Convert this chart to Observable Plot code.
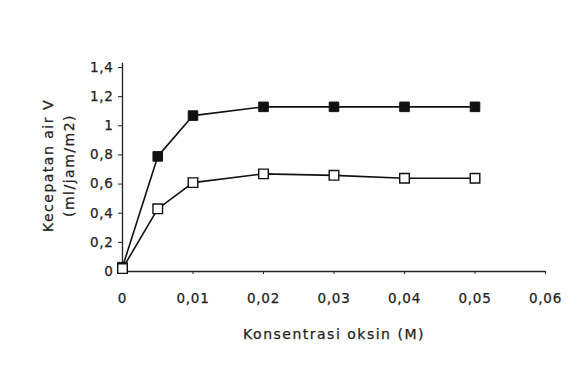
<!DOCTYPE html>
<html>
<head>
<meta charset="utf-8">
<script src="https://cdn.jsdelivr.net/npm/d3@7"></script>
<script src="https://cdn.jsdelivr.net/npm/@observablehq/plot@0.6"></script>
<style>
  html, body { margin: 0; padding: 0; background: #fff; }
  #chart svg { display: block; }
  #chart svg text { stroke: #222; stroke-width: 0.25px; }
  .ticklbl text { letter-spacing: 0.7px; }
  .axlbl text { letter-spacing: 1.5px; }
</style>
</head>
<body>
<div id="chart"></div>
<script>
const concentrations = [0, 0.005, 0.01, 0.02, 0.03, 0.04, 0.05];
const filledSeries = [0.03, 0.79, 1.07, 1.13, 1.13, 1.13, 1.13];
const openSeries = [0.02, 0.43, 0.61, 0.67, 0.66, 0.64, 0.64];
const xTicks = [0, 0.01, 0.02, 0.03, 0.04, 0.05, 0.06];
const yTicks = [0, 0.2, 0.4, 0.6, 0.8, 1, 1.2, 1.4];
const xLabel = "Konsentrasi oksin (M)";
const yLabel = "Kecepatan air V\n(ml/jam/m2)";

const filled = concentrations.map((x, i) => ({x, y: filledSeries[i]}));
const open = concentrations.map((x, i) => ({x, y: openSeries[i]}));
const comma = d => String(d).replace(".", ",");

const chart = Plot.plot({
  width: 571,
  height: 365,
  marginLeft: 122,
  marginRight: 26,
  marginTop: 67,
  marginBottom: 94,
  style: {fontFamily: "DejaVu Sans, sans-serif", fontSize: "13.5px", color: "#222", background: "#fff"},
  x: {domain: [0, 0.06]},
  y: {domain: [0, 1.4]},
  marks: [
    Plot.ruleY([0], {x1: 0, x2: 0.06, stroke: "#222", strokeWidth: 1.3}),
    Plot.ruleX([0], {y1: 0, y2: 1.43, stroke: "#222", strokeWidth: 1.3, clip: false}),
    Plot.axisX({ticks: xTicks, tickFormat: comma, tickSize: 3, tickPadding: 19, label: null, stroke: "#222", fill: "#222", className: "ticklbl"}),
    Plot.axisY({ticks: yTicks, tickFormat: comma, tickSize: 4, tickPadding: 5, label: null, stroke: "#222", fill: "#222", className: "ticklbl"}),
    Plot.line(filled, {x: "x", y: "y", stroke: "#111", strokeWidth: 1.6}),
    Plot.line(open, {x: "x", y: "y", stroke: "#111", strokeWidth: 1.6}),
    Plot.dot(filled, {x: "x", y: "y", symbol: "square", r: 5.4, fill: "#111", stroke: "#111", strokeWidth: 1}),
    Plot.dot(open, {x: "x", y: "y", symbol: "square", r: 5.4, fill: "#fff", stroke: "#111", strokeWidth: 1.4}),
    Plot.text([xLabel], {frameAnchor: "bottom", dy: 67, fontSize: 14, fill: "#222", className: "axlbl"}),
    Plot.text([yLabel], {frameAnchor: "left", textAnchor: "middle", dx: -66, dy: -4, rotate: -90, fontSize: 14, lineHeight: 1.5, fill: "#222", className: "axlbl"})
  ]
});
document.getElementById("chart").appendChild(chart);
</script>
</body>
</html>
